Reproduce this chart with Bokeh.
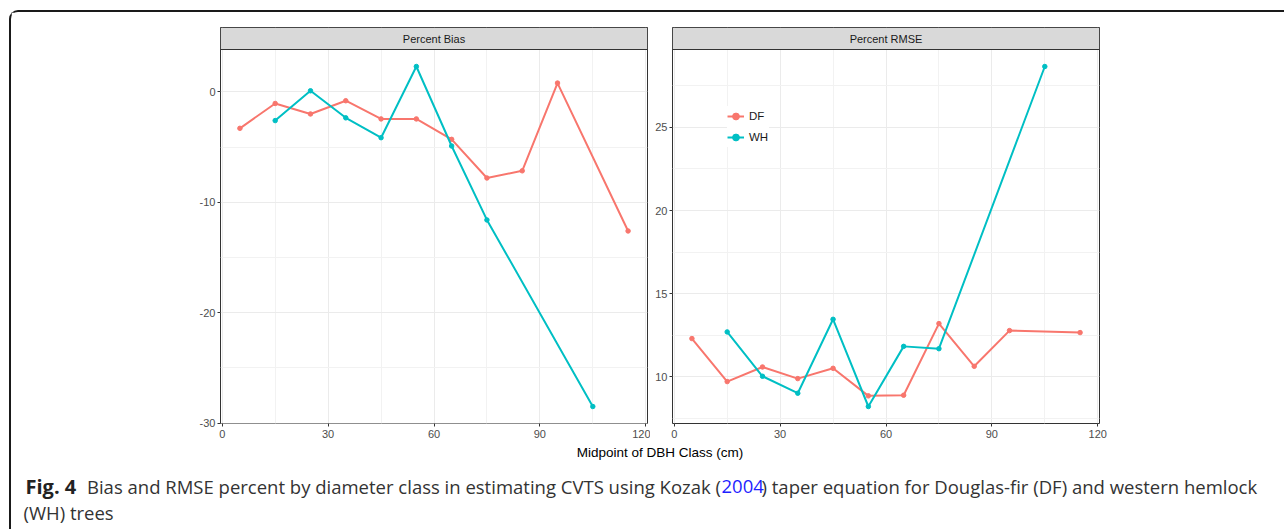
from bokeh.plotting import figure
from bokeh.models import Range1d, FixedTicker, Legend, LegendItem, PrintfTickFormatter
from bokeh.layouts import row, column
from bokeh.core.properties import value
from bokeh.embed import file_html
from bokeh.resources import INLINE

# ---------------- data ----------------
dbh_df = [5, 15, 25, 35, 45, 55, 65, 75, 85, 95, 115]
bias_df = [-3.3, -1.05, -2.0, -0.8, -2.45, -2.45, -4.3, -7.8, -7.15, 0.8, -12.6]
rmse_df = [12.29, 9.70, 10.58, 9.88, 10.5, 8.84, 8.88, 13.19, 10.62, 12.77, 12.65]

dbh_wh = [15, 25, 35, 45, 55, 65, 75, 105]
bias_wh = [-2.6, 0.1, -2.35, -4.15, 2.3, -4.9, -11.6, -28.5]
rmse_wh = [12.69, 10.02, 9.0, 13.45, 8.2, 11.82, 11.68, 28.67]

x_ticks = [0, 30, 60, 90, 120]
x_minor = [15, 45, 75, 105]
bias_ticks = [-30, -20, -10, 0]
bias_minor = [-25, -15, -5]
rmse_ticks = [10, 15, 20, 25]
rmse_minor = [7.5, 12.5, 17.5, 22.5, 27.5]

panel_titles = ["Percent Bias", "Percent RMSE"]
series_names = ["DF", "WH"]
x_title = "Midpoint of DBH Class (cm)"
cap_bold = "Fig. 4"
cap_part1 = "Bias and RMSE percent by diameter class in estimating CVTS using Kozak ("
cap_link = "2004"
cap_part2 = ") taper equation for Douglas-fir (DF) and western hemlock"
cap_line2 = "(WH) trees"

# ---------------- style ----------------
COL_DF = "#F8766D"
COL_WH = "#00BFC4"
DARK = "#333333"
TICK_COL = "#4D4D4D"
FONT = "Liberation Sans"
CAP_FONT = "Open Sans"
CAP_SIZE = "18.5px"

OX, OY = 11, 12          # content origin inside the CSS border
STRIP_H, PANEL_H = 22, 374
PANEL_FIG_H = 431


def expand(vals):
    lo, hi = min(vals), max(vals)
    d = (hi - lo) * 0.05
    return lo - d, hi + d


x_lo, x_hi = expand(dbh_df + dbh_wh)


def make_panel(title, ydf, ywh, yticks, yminor, width, mb_left, mb_right, with_legend=False):
    y_lo, y_hi = expand(ydf + ywh)
    y_top = y_hi + (y_hi - y_lo) * STRIP_H / PANEL_H
    p = figure(width=width, height=PANEL_FIG_H,
               x_range=Range1d(x_lo, x_hi), y_range=Range1d(y_lo, y_top),
               output_backend="svg", toolbar_location=None,
               min_border_left=mb_left, min_border_right=mb_right,
               min_border_top=15, min_border_bottom=20)
    p.background_fill_color = "white"
    p.border_fill_color = "white"
    p.outline_line_color = DARK
    p.outline_line_width = 1

    p.xaxis.ticker = FixedTicker(ticks=x_ticks, minor_ticks=x_minor)
    p.yaxis.ticker = FixedTicker(ticks=yticks, minor_ticks=yminor)
    for ax in (p.xaxis, p.yaxis):
        ax.formatter = PrintfTickFormatter(format="%d")
        ax.axis_line_color = None
        ax.major_tick_line_color = DARK
        ax.major_tick_in = 0
        ax.major_tick_out = 3
        ax.minor_tick_in = 0
        ax.minor_tick_out = 0
        ax.major_label_text_font = FONT
        ax.major_label_text_font_size = "11px"
        ax.major_label_text_color = TICK_COL
    p.xaxis.major_label_standoff = 3
    p.yaxis.major_label_standoff = 2

    for g in (p.xgrid, p.ygrid):
        g.grid_line_color = "#EBEBEB"
        g.grid_line_width = 1
        g.minor_grid_line_color = "#F2F2F2"
        g.minor_grid_line_width = 1

    l1 = p.line(dbh_df, ydf, line_color=COL_DF, line_width=2)
    s1 = p.scatter(dbh_df, ydf, size=4.5, fill_color=COL_DF, line_color=COL_DF)
    l2 = p.line(dbh_wh, ywh, line_color=COL_WH, line_width=2)
    s2 = p.scatter(dbh_wh, ywh, size=4.5, fill_color=COL_WH, line_color=COL_WH)

    # facet strip
    p.quad(left=[x_lo], right=[x_hi], bottom=[y_hi], top=[y_top],
           fill_color="#D9D9D9", line_color=DARK, line_width=1)
    p.text(x=[(x_lo + x_hi) / 2], y=[(y_hi + y_top) / 2], text=[title],
           text_font=value(FONT), text_font_size=value("11px"),
           text_color="#1A1A1A", text_align="center", text_baseline="middle")

    if with_legend:
        legend = Legend(items=[LegendItem(label=series_names[0], renderers=[l1, s1]),
                               LegendItem(label=series_names[1], renderers=[l2, s2])],
                        location=(55, 276), padding=9, spacing=1,
                        glyph_width=17, glyph_height=20, label_height=20,
                        label_standoff=5, label_text_font=FONT,
                        label_text_font_size="11.5px", label_text_color="#1A1A1A",
                        border_line_color=None, background_fill_color="white",
                        background_fill_alpha=1, margin=0)
        p.add_layout(legend)
    return p


left = make_panel(panel_titles[0], bias_df, bias_wh, bias_ticks, bias_minor,
                  width=639, mb_left=209, mb_right=3)
right = make_panel(panel_titles[1], rmse_df, rmse_wh, rmse_ticks, rmse_minor,
                   width=634, mb_left=22, mb_right=185, with_legend=True)

# caption area (page coordinates)
cap = figure(width=1273, height=86, x_range=Range1d(OX, 1284), y_range=Range1d(529, 443),
             output_backend="svg", toolbar_location=None,
             x_axis_type=None, y_axis_type=None,
             min_border_left=0, min_border_right=0, min_border_top=0, min_border_bottom=0)
cap.outline_line_color = None
cap.grid.visible = False
cap.background_fill_color = "white"
cap.border_fill_color = "white"

cap.text(x=[659.5], y=[451.7], text=[x_title], text_font=value(FONT),
         text_font_size=value("13.5px"), text_color="#000000",
         text_align="center", text_baseline="middle")
cap.text(x=[25], y=[485.5], text=[cap_bold], text_font=value(CAP_FONT),
         text_font_size=value("20px"), text_font_style="bold", text_color="#222222",
         text_align="left", text_baseline="middle")
cap.text(x=[86.5], y=[485.5], text=[cap_part1], text_font=value(CAP_FONT),
         text_font_size=value(CAP_SIZE), text_color="#333333",
         text_align="left", text_baseline="middle")
cap.text(x=[721], y=[485.5], text=[cap_link], text_font=value(CAP_FONT),
         text_font_size=value(CAP_SIZE), text_color="#1F1FFF",
         text_align="left", text_baseline="middle")
cap.text(x=[761], y=[485.5], text=[cap_part2], text_font=value(CAP_FONT),
         text_font_size=value(CAP_SIZE), text_color="#333333",
         text_align="left", text_baseline="middle")
cap.text(x=[23], y=[511.5], text=[cap_line2], text_font=value(CAP_FONT),
         text_font_size=value(CAP_SIZE), text_color="#333333",
         text_align="left", text_baseline="middle")

layout = column(row(left, right, spacing=0), cap, spacing=0,
                styles={"margin-left": "9px", "margin-top": "10px",
                        "border-left": "2px solid #1a1a1a",
                        "border-top": "2px solid #1a1a1a",
                        "border-top-left-radius": "9px"})

open("out.html", "w").write(file_html(layout, INLINE))
